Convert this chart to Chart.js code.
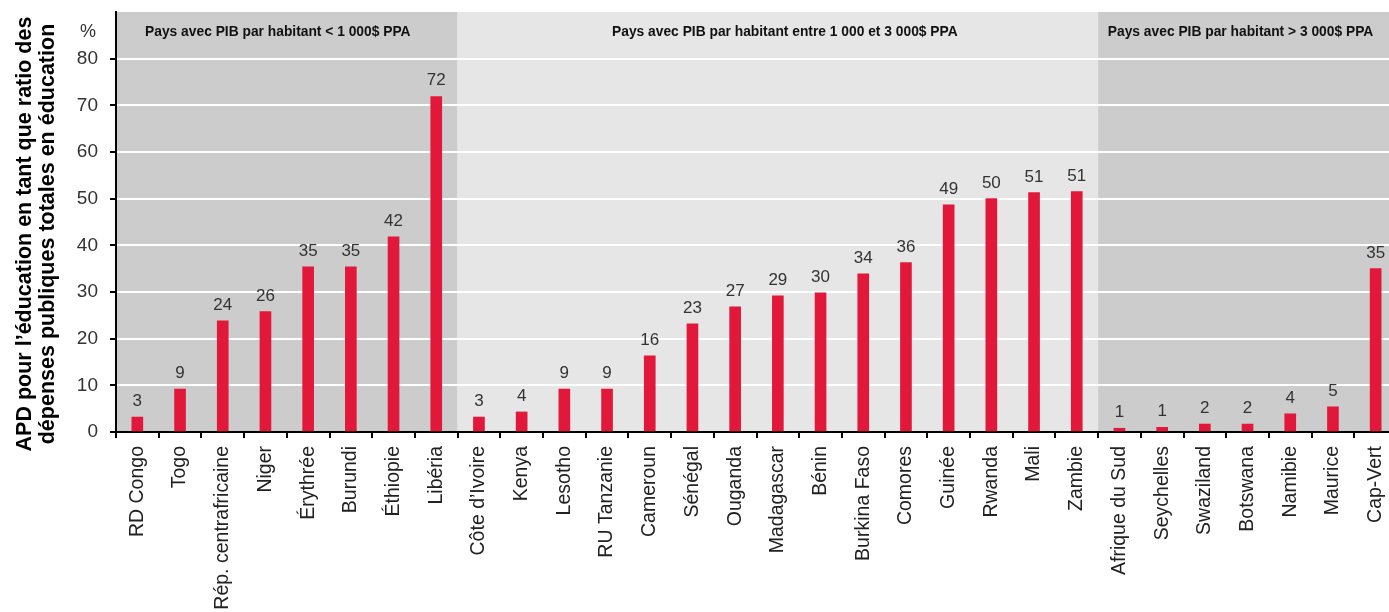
<!DOCTYPE html>
<html>
<head>
<meta charset="utf-8">
<script src="https://cdn.jsdelivr.net/npm/chart.js@4/dist/chart.umd.min.js"></script>
<style>
  html, body { margin: 0; padding: 0; background: #fff; overflow: hidden; }
  #wrap { width: 1400px; height: 612px; }
</style>
</head>
<body>
<div id="wrap"><canvas id="chart" width="1400" height="612"></canvas></div>
<script>
// Données
const categories = [
  'RD Congo', 'Togo', 'Rép. centrafricaine', 'Niger', 'Érythrée', 'Burundi', 'Éthiopie', 'Libéria',
  'Côte d\u2019Ivoire', 'Kenya', 'Lesotho', 'RU Tanzanie', 'Cameroun', 'Sénégal', 'Ouganda', 'Madagascar',
  'Bénin', 'Burkina Faso', 'Comores', 'Guinée', 'Rwanda', 'Mali', 'Zambie',
  'Afrique du Sud', 'Seychelles', 'Swaziland', 'Botswana', 'Namibie', 'Maurice', 'Cap-Vert'
];
const values = [
  3.2, 9.2, 23.8, 25.8, 35.4, 35.4, 41.8, 71.9,
  3.2, 4.3, 9.2, 9.2, 16.3, 23.2, 26.8, 29.2,
  29.8, 33.9, 36.3, 48.7, 50.0, 51.3, 51.5,
  0.8, 1.0, 1.7, 1.7, 3.9, 5.4, 35.0
];
const valueLabels = [
  3, 9, 24, 26, 35, 35, 42, 72,
  3, 4, 9, 9, 16, 23, 27, 29,
  30, 34, 36, 49, 50, 51, 51,
  1, 1, 2, 2, 4, 5, 35
];
const groupLabels = [
  'Pays avec PIB par habitant < 1 000$ PPA',
  'Pays avec PIB par habitant entre 1 000 et 3 000$ PPA',
  'Pays avec PIB par habitant > 3 000$ PPA'
];
const groupSizes = [8, 15, 7];
const yTitle = [
  'APD pour l\u2019éducation en tant que ratio des',
  'dépenses publiques totales en éducation'
];

const FONT = "'Liberation Sans', Arial, Helvetica, sans-serif";
// petit décalage horizontal des titres de groupe (px)
const groupLabelShift = [-9, 7, -7];

// Bandes grises + libellés de groupes
const bandsPlugin = {
  id: 'bands',
  beforeDraw(chart) {
    const { ctx, chartArea, scales: { x } } = chart;
    const half = (x.getPixelForValue(1) - x.getPixelForValue(0)) / 2;
    let start = 0;
    ctx.save();
    groupSizes.forEach((n, g) => {
      const x0 = x.getPixelForValue(start) - half;
      const x1 = x.getPixelForValue(start + n - 1) + half;
      ctx.fillStyle = g % 2 ? '#e6e6e6' : '#cccccc';
      ctx.fillRect(x0, chartArea.top, x1 - x0, chartArea.bottom - chartArea.top);
      start += n;
    });
    ctx.restore();
  },
  afterDatasetsDraw(chart) {
    const { ctx, scales: { x, y } } = chart;
    const half = (x.getPixelForValue(1) - x.getPixelForValue(0)) / 2;
    ctx.save();
    // libellés des groupes
    ctx.font = 'bold 13.8px ' + FONT;
    ctx.fillStyle = '#111';
    ctx.textAlign = 'center';
    ctx.textBaseline = 'middle';
    let start = 0;
    groupSizes.forEach((n, g) => {
      const x0 = x.getPixelForValue(start) - half;
      const x1 = x.getPixelForValue(start + n - 1) + half;
      ctx.fillText(groupLabels[g], (x0 + x1) / 2 + groupLabelShift[g], 32);
      start += n;
    });
    // valeurs au-dessus des barres
    ctx.font = '17px ' + FONT;
    ctx.fillStyle = '#333';
    ctx.textBaseline = 'alphabetic';
    values.forEach((v, i) => {
      ctx.fillText(String(valueLabels[i]), x.getPixelForValue(i), y.getPixelForValue(v) - 11);
    });
    // unité
    ctx.font = '18px ' + FONT;
    ctx.fillStyle = '#333';
    ctx.textBaseline = 'middle';
    ctx.fillText('%', 88, 32);
    ctx.restore();
  },
  afterDraw(chart) {
    const { ctx } = chart;
    ctx.save();
    ctx.translate(25, 234);
    ctx.rotate(-Math.PI / 2);
    ctx.font = 'bold 21.5px ' + FONT;
    ctx.fillStyle = '#000';
    ctx.textAlign = 'center';
    ctx.textBaseline = 'middle';
    ctx.fillText(yTitle[0], 0, 0);
    ctx.fillText(yTitle[1], 0, 23);
    ctx.restore();
  }
};

new Chart(document.getElementById('chart'), {
  type: 'bar',
  data: {
    labels: categories,
    datasets: [{
      data: values,
      backgroundColor: '#e2183a',
      borderWidth: 0,
      barThickness: 11
    }]
  },
  options: {
    responsive: false,
    animation: false,
    layout: { padding: { top: 12, right: 3, left: 0, bottom: 0 } },
    plugins: {
      legend: { display: false },
      tooltip: { enabled: false }
    },
    scales: {
      x: {
        offset: true,
        border: { color: '#000', width: 2 },
        grid: {
          offset: true,
          drawOnChartArea: false,
          drawTicks: true,
          tickLength: 6,
          tickColor: '#000',
          lineWidth: 2
        },
        ticks: {
          minRotation: 90,
          maxRotation: 90,
          autoSkip: false,
          padding: 8,
          color: '#222',
          font: { family: FONT, size: 19.5 }
        },
        afterFit(scale) {
          scale.height = 180;
          scale.paddingLeft = 0;
          scale.paddingRight = 0;
        }
      },
      y: {
        min: 0,
        max: 90,
        border: { color: '#000', width: 2 },
        grid: {
          color: (c) => (c.tick && (c.tick.value === 0 || c.tick.value === 90)) ? 'rgba(0,0,0,0)' : '#ffffff',
          tickColor: (c) => (c.tick && c.tick.value === 90) ? 'rgba(0,0,0,0)' : '#000',
          lineWidth: 2,
          tickLength: 6
        },
        ticks: {
          stepSize: 10,
          padding: 12,
          color: '#333',
          font: { family: FONT, size: 19 },
          callback: (v) => v === 90 ? '' : v
        },
        afterFit(scale) {
          scale.width = 116;
          scale.paddingTop = 0;
          scale.paddingBottom = 0;
        }
      }
    }
  },
  plugins: [bandsPlugin]
});
</script>
</body>
</html>
